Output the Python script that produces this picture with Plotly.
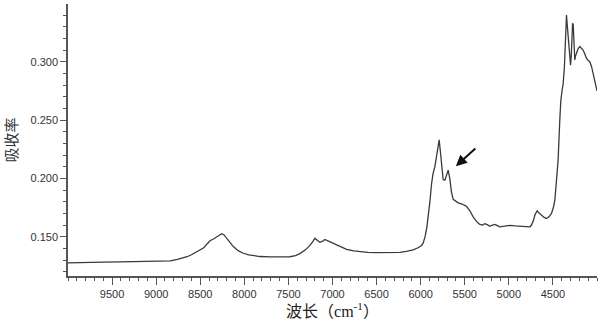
import plotly.graph_objects as go

wavenumber = [10000, 9900, 9800, 9600, 9400, 9200, 9000, 8900, 8840, 8760, 8700, 8650, 8600, 8550,
              8500, 8460, 8420, 8390, 8350, 8314, 8280, 8257, 8230, 8201, 8160, 8125, 8070, 8012,
              7950, 7900, 7823, 7700, 7600, 7483, 7420, 7370, 7310, 7256, 7220, 7200, 7170, 7143,
              7110, 7086, 7040, 6992, 6920, 6840, 6760, 6689, 6600, 6500, 6400, 6300, 6236, 6160,
              6085, 6030, 5990, 5972, 5950, 5930, 5915, 5895, 5877, 5860, 5839, 5815, 5800, 5790,
              5775, 5760, 5745, 5725, 5705, 5688, 5670, 5650, 5631, 5600, 5575, 5530, 5480, 5440,
              5405, 5360, 5329, 5300, 5272, 5245, 5215, 5185, 5159, 5130, 5102, 5050, 4989, 4930,
              4875, 4820, 4781, 4760, 4743, 4720, 4705, 4690, 4679, 4660, 4630, 4600, 4573, 4545,
              4516, 4495, 4478, 4459, 4441, 4422, 4410, 4395, 4384, 4370, 4358, 4350, 4346, 4338,
              4330, 4316, 4305, 4300, 4292, 4285, 4277, 4270, 4262, 4252, 4243, 4233, 4215, 4195,
              4175, 4158, 4140, 4120, 4100, 4082, 4062, 4044, 4025, 4006, 4000]

absorbance = [0.1275, 0.1278, 0.1280, 0.1282, 0.1284, 0.1285, 0.1286, 0.1288, 0.1292, 0.1305, 0.1315,
              0.1328, 0.1345, 0.1365, 0.1385, 0.1405, 0.1440, 0.1465, 0.1480, 0.1500, 0.1515, 0.1525,
              0.1515, 0.1488, 0.1450, 0.1415, 0.1380, 0.1358, 0.1345, 0.1338, 0.1330, 0.1327, 0.1326,
              0.1328, 0.1338, 0.1355, 0.1385, 0.1425, 0.1462, 0.1486, 0.1468, 0.1452, 0.1462, 0.1476,
              0.1460, 0.1443, 0.1415, 0.1392, 0.1378, 0.1370, 0.1366, 0.1364, 0.1363, 0.1363, 0.1366,
              0.1374, 0.1388, 0.1405, 0.1425, 0.1445, 0.1500, 0.1580, 0.1660, 0.1800, 0.1950, 0.2040,
              0.2100, 0.2200, 0.2290, 0.2330, 0.2220, 0.2080, 0.1990, 0.1985, 0.2030, 0.2070, 0.2000,
              0.1880, 0.1820, 0.1800, 0.1790, 0.1780, 0.1760, 0.1720, 0.1670, 0.1625, 0.1605, 0.1600,
              0.1612, 0.1603, 0.1590, 0.1600, 0.1606, 0.1595, 0.1585, 0.1590, 0.1597, 0.1592, 0.1590,
              0.1585, 0.1580, 0.1585, 0.1600, 0.1640, 0.1685, 0.1712, 0.1722, 0.1705, 0.1685, 0.1665,
              0.1656, 0.1670, 0.1700, 0.1750, 0.1813, 0.1957, 0.2157, 0.2500, 0.2670, 0.2760, 0.2810,
              0.2950, 0.3150, 0.3360, 0.3400, 0.3320, 0.3250, 0.3100, 0.2980, 0.2970, 0.3050, 0.3200,
              0.3330, 0.3320, 0.3150, 0.3015, 0.3050, 0.3070, 0.3110, 0.3130, 0.3115, 0.3100, 0.3070,
              0.3030, 0.3010, 0.3000, 0.2960, 0.2900, 0.2830, 0.2760, 0.2750]

x_ticks = [9500, 9000, 8500, 8000, 7500, 7000, 6500, 6000, 5500, 5000, 4500]
y_ticks = [0.150, 0.200, 0.250, 0.300]

arrow_target = (5601, 0.2105)

fig = go.Figure()
fig.add_trace(go.Scatter(x=wavenumber, y=absorbance, mode="lines",
                         line=dict(color="#3a3a3a", width=1.3), showlegend=False))

fig.add_annotation(x=arrow_target[0], y=arrow_target[1], xref="x", yref="y",
                   text="", showarrow=True, ax=21, ay=-19,
                   arrowhead=2, arrowsize=1.1, arrowwidth=2, arrowcolor="#111111")

tick_font = dict(family="Liberation Sans, Arial, sans-serif", size=11, color="#333333")

fig.update_layout(
    width=600, height=333,
    margin=dict(l=68, r=3, t=4, b=57),
    paper_bgcolor="white", plot_bgcolor="white",
    xaxis=dict(
        range=[10000, 4000], tickvals=x_ticks, ticktext=[str(v) for v in x_ticks],
        automargin=False,
        showgrid=False, zeroline=False, showline=True, linecolor="#555555", linewidth=1.5,
        ticks="outside", ticklen=7, tickwidth=1.2, tickcolor="#555555",
        minor=dict(dtick=100, tick0=0, ticks="outside", ticklen=3, tickcolor="#555555", tickwidth=1),
        tickfont=tick_font,
        title=dict(text="波长（cm<sup>-1</sup>）",
                   font=dict(family="Liberation Serif, Noto Sans CJK SC, serif", size=16, color="#222222"),
                   standoff=4),
    ),
    yaxis=dict(
        range=[0.1163, 0.3495], tickvals=y_ticks, ticktext=["%.3f" % v for v in y_ticks],
        automargin=False,
        showgrid=False, zeroline=False, showline=True, linecolor="#555555", linewidth=1.5,
        ticks="outside", ticklen=6, tickwidth=1.2, tickcolor="#555555",
        minor=dict(dtick=0.01, tick0=0, ticks="outside", ticklen=3, tickcolor="#555555", tickwidth=1),
        tickfont=tick_font,
        title=dict(text="吸收率",
                   font=dict(family="Noto Sans CJK SC, sans-serif", size=15, color="#333333"),
                   standoff=12),
    ),
)

fig.write_html("out.html", config={"displayModeBar": False},
               post_script="document.body.style.margin='0';")
